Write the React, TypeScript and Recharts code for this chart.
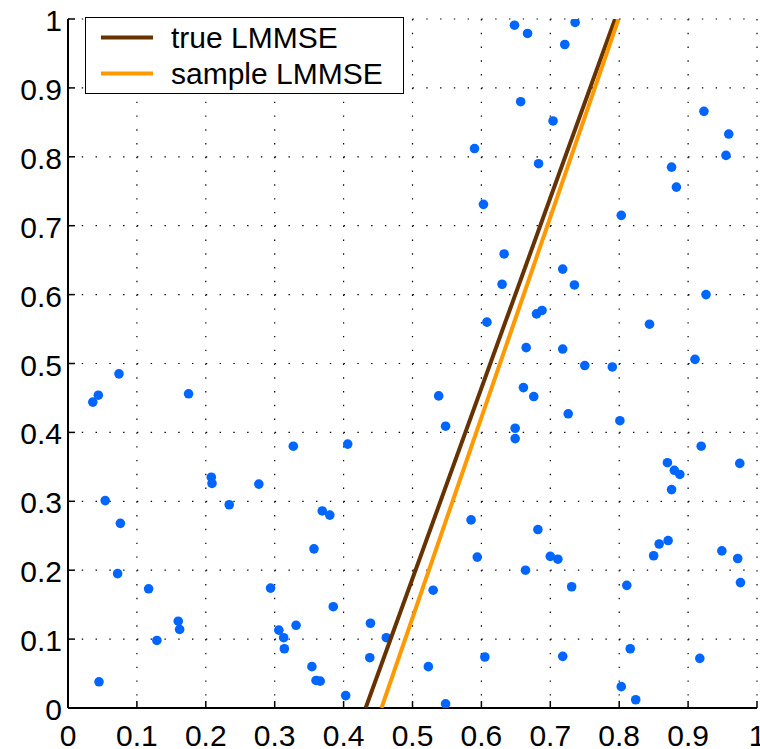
import React from 'react';
import { ScatterChart, Scatter, XAxis, YAxis, CartesianGrid, Legend } from 'recharts';

// Sample cloud (x, y pairs)
const sampleX = [
  0.074, 0.044, 0.036, 0.175, 0.327, 0.406, 0.208, 0.209, 0.277, 0.054,
  0.234, 0.369, 0.380, 0.076, 0.357, 0.072, 0.117, 0.294, 0.385, 0.160,
  0.162, 0.129, 0.306, 0.313, 0.314, 0.331, 0.439, 0.462, 0.438, 0.354,
  0.360, 0.366, 0.045, 0.403,
  0.648, 0.667, 0.736, 0.721, 0.657, 0.704, 0.590, 0.683, 0.923, 0.959,
  0.955, 0.876, 0.883, 0.603, 0.803, 0.633, 0.718, 0.630, 0.735, 0.926,
  0.680, 0.688, 0.608, 0.844, 0.665, 0.718, 0.750, 0.790, 0.910,
  0.538, 0.548, 0.661, 0.676, 0.726, 0.801, 0.649, 0.649, 0.919, 0.870,
  0.975, 0.880, 0.888, 0.876, 0.585, 0.682, 0.594, 0.700, 0.711, 0.871,
  0.858, 0.850, 0.949, 0.972, 0.664, 0.731, 0.811, 0.976, 0.530, 0.523,
  0.605, 0.718, 0.816, 0.917, 0.803, 0.824, 0.548,
];
const sampleY = [
  0.485, 0.454, 0.444, 0.456, 0.380, 0.383, 0.335, 0.326, 0.325, 0.301,
  0.295, 0.286, 0.280, 0.268, 0.231, 0.195, 0.173, 0.174, 0.147, 0.126,
  0.114, 0.098, 0.113, 0.102, 0.086, 0.120, 0.123, 0.102, 0.073, 0.060,
  0.040, 0.039, 0.038, 0.018,
  0.991, 0.979, 0.995, 0.963, 0.880, 0.852, 0.812, 0.790, 0.866, 0.833,
  0.802, 0.785, 0.756, 0.731, 0.715, 0.659, 0.637, 0.615, 0.614, 0.600,
  0.572, 0.577, 0.560, 0.557, 0.523, 0.521, 0.497, 0.495, 0.506,
  0.453, 0.409, 0.465, 0.452, 0.427, 0.417, 0.406, 0.391, 0.380, 0.356,
  0.355, 0.345, 0.339, 0.317, 0.273, 0.259, 0.219, 0.220, 0.216, 0.243,
  0.238, 0.221, 0.228, 0.217, 0.200, 0.176, 0.178, 0.182, 0.171, 0.060,
  0.074, 0.075, 0.086, 0.072, 0.031, 0.012, 0.006,
];

// Estimator lines, given by their end points
const trueLineX = [0.432, 0.794];
const trueLineY = [0, 1];
const sampleLineX = [0.455, 0.799];
const sampleLineY = [0, 1];

const seriesNames = ['true LMMSE', 'sample LMMSE'];
const axisTicks = [0, 0.1, 0.2, 0.3, 0.4, 0.5, 0.6, 0.7, 0.8, 0.9, 1];

const points = sampleX.map((x, i) => ({ x, y: sampleY[i] }));
const trueLine = trueLineX.map((x, i) => ({ x, y: trueLineY[i] }));
const sampleLine = sampleLineX.map((x, i) => ({ x, y: sampleLineY[i] }));

const FONT = '"Liberation Sans", Arial, Helvetica, sans-serif';
const FONT_SIZE = 30;

const fmt = (v: number) => String(Number(v.toFixed(1)));

const XTick = (props: any) => {
  const { x, y, payload } = props;
  return (
    <text x={x} y={y} textAnchor="middle" fontFamily={FONT} fontSize={FONT_SIZE} fill="#000">
      {fmt(payload.value)}
    </text>
  );
};

const YTick = (props: any) => {
  const { x, y, payload } = props;
  return (
    <text x={x} y={y + 12} textAnchor="end" fontFamily={FONT} fontSize={FONT_SIZE} fill="#000">
      {fmt(payload.value)}
    </text>
  );
};

const LegendBox = (props: any) => {
  const items = (props.payload || [])
    .filter((p: any) => seriesNames.includes(p.value))
    .sort((a: any, b: any) => seriesNames.indexOf(a.value) - seriesNames.indexOf(b.value));
  return (
    <div
      style={{
        width: 319,
        height: 77,
        boxSizing: 'border-box',
        border: '1.5px solid #000',
        background: '#fff',
      }}
    >
      <svg width={316} height={74} style={{ display: 'block' }}>
        {items.map((it: any, i: number) => (
          <g key={it.value}>
            <line x1={15} x2={67} y1={19.5 + i * 36} y2={19.5 + i * 36} stroke={it.color} strokeWidth={4} />
            <text x={85} y={30 + i * 36} fontFamily={FONT} fontSize={FONT_SIZE} fill="#000">
              {it.value}
            </text>
          </g>
        ))}
      </svg>
    </div>
  );
};

const Dot = (props: any) => <circle cx={props.cx} cy={props.cy} r={4.8} fill="#0066FF" />;
const NoShape = () => <g />;

export default function App() {
  return (
    <div style={{ position: 'absolute', left: 0, top: 0, width: 760, height: 749, background: '#fff' }}>
      <ScatterChart width={760} height={749} margin={{ top: 19, right: 3, bottom: 11, left: 8 }}>
        <CartesianGrid stroke="#000" strokeWidth={1.2} strokeDasharray="1.4 12.38" />
        <XAxis
          type="number"
          dataKey="x"
          domain={[0, 1]}
          ticks={axisTicks}
          interval={0}
          allowDataOverflow
          height={30}
          tickSize={-7}
          tickMargin={45}
          tick={<XTick />}
          axisLine={{ stroke: '#000', strokeWidth: 2 }}
          tickLine={{ stroke: '#000', strokeWidth: 1.5 }}
        />
        <XAxis
          xAxisId="top"
          orientation="top"
          type="number"
          dataKey="x"
          domain={[0, 1]}
          ticks={axisTicks}
          interval={0}
          allowDataOverflow
          height={0}
          tickSize={-7}
          tick={false}
          axisLine={{ stroke: '#000', strokeWidth: 2 }}
          tickLine={{ stroke: '#000', strokeWidth: 1.5 }}
        />
        <YAxis
          type="number"
          dataKey="y"
          domain={[0, 1]}
          ticks={axisTicks}
          interval={0}
          allowDataOverflow
          width={60}
          tickSize={-7}
          tickMargin={13}
          tick={<YTick />}
          axisLine={{ stroke: '#000', strokeWidth: 2 }}
          tickLine={{ stroke: '#000', strokeWidth: 1.5 }}
        />
        <YAxis
          yAxisId="right"
          orientation="right"
          type="number"
          dataKey="y"
          domain={[0, 1]}
          ticks={axisTicks}
          interval={0}
          allowDataOverflow
          width={0}
          tickSize={-7}
          tick={false}
          axisLine={{ stroke: '#000', strokeWidth: 2 }}
          tickLine={{ stroke: '#000', strokeWidth: 1.5 }}
        />
        <Scatter data={points} shape={<Dot />} legendType="none" isAnimationActive={false} />
        <Scatter
          name={seriesNames[0]}
          data={trueLine}
          fill="#663300"
          line={{ stroke: '#663300', strokeWidth: 4 }}
          shape={<NoShape />}
          legendType="line"
          isAnimationActive={false}
        />
        <Scatter
          name={seriesNames[1]}
          data={sampleLine}
          fill="#FF9900"
          line={{ stroke: '#FF9900', strokeWidth: 4 }}
          shape={<NoShape />}
          legendType="line"
          isAnimationActive={false}
        />
        <Legend
          layout="vertical"
          align="center"
          verticalAlign="middle"
          wrapperStyle={{ left: 85, top: 17, width: 319, height: 77 }}
          content={<LegendBox />}
        />
      </ScatterChart>
    </div>
  );
}
